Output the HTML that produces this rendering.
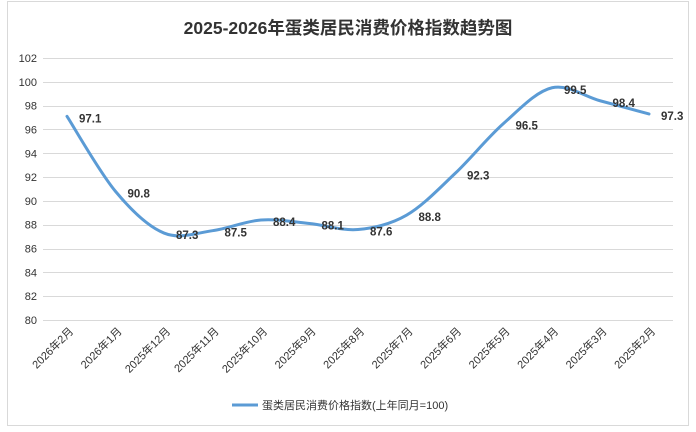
<!DOCTYPE html>
<html><head><meta charset="utf-8"><style>
body{margin:0;background:#fff;}
svg{display:block;font-family:"Liberation Sans","Noto Sans CJK SC",sans-serif;}
</style></head><body>
<svg width="696" height="432" viewBox="0 0 696 432" xmlns="http://www.w3.org/2000/svg">
<rect x="0" y="0" width="696" height="432" fill="#fff"/>
<rect x="7.5" y="1.5" width="681" height="424" fill="none" stroke="#d9d9d9"/>
<text x="348" y="34" text-anchor="middle" font-size="17.5" font-weight="bold" fill="#333">2025-2026年蛋类居民消费价格指数趋势图</text>
<g id="grid" stroke="#d9d9d9" stroke-width="1"></g>
<g id="ylab" font-size="11" fill="#333" text-anchor="end"></g>
<g id="xlab" font-size="11" fill="#333" text-anchor="end"></g>
<path id="line" fill="none" stroke="#5b9bd5" stroke-width="3" stroke-linecap="round"/>
<g id="dl" font-size="11.5" font-weight="bold" fill="#333"></g>
<line x1="232" y1="405" x2="258" y2="405" stroke="#5b9bd5" stroke-width="3"/>
<text x="262" y="409" font-size="11" fill="#333">蛋类居民消费价格指数(上年同月=100)</text>
</svg>
<script>
const NS="http://www.w3.org/2000/svg";
function el(t,a,txt,p){const e=document.createElementNS(NS,t);for(const k in a)e.setAttribute(k,a[k]);if(txt!=null)e.textContent=txt;document.getElementById(p).appendChild(e);return e;}
const Y=v=>320-(v-80)*262/22;
for(let v=80;v<=102;v+=2){const y=Math.round(Y(v))+0.5;el('line',{x1:43,x2:673,y1:y,y2:y},null,'grid');el('text',{x:37,y:Y(v)+4},v,'ylab');}
const labs=["2026年2月","2026年1月","2025年12月","2025年11月","2025年10月","2025年9月","2025年8月","2025年7月","2025年6月","2025年5月","2025年4月","2025年3月","2025年2月"];
const vals=[97.1,90.8,87.3,87.5,88.4,88.1,87.6,88.8,92.3,96.5,99.5,98.4,97.3];
const pts=vals.map((v,i)=>[67+48.5*i,Y(v)]);
labs.forEach((l,i)=>{const x=pts[i][0]+7,y=332;el('text',{x:x,y:y,transform:`rotate(-45 ${x} ${y})`},l,'xlab');});
vals.forEach((v,i)=>{el('text',{x:pts[i][0]+12,y:pts[i][1]+6},v.toFixed(1),'dl');});
let d=`M${pts[0][0]},${pts[0][1]}`;
for(let i=0;i<pts.length-1;i++){const p0=pts[Math.max(0,i-1)],p1=pts[i],p2=pts[i+1],p3=pts[Math.min(pts.length-1,i+2)];
const c1=[p1[0]+(p2[0]-p0[0])/6,p1[1]+(p2[1]-p0[1])/6],c2=[p2[0]-(p3[0]-p1[0])/6,p2[1]-(p3[1]-p1[1])/6];
d+=` C${c1[0]},${c1[1]} ${c2[0]},${c2[1]} ${p2[0]},${p2[1]}`;}
document.getElementById('line').setAttribute('d',d);
</script>
</body></html>
